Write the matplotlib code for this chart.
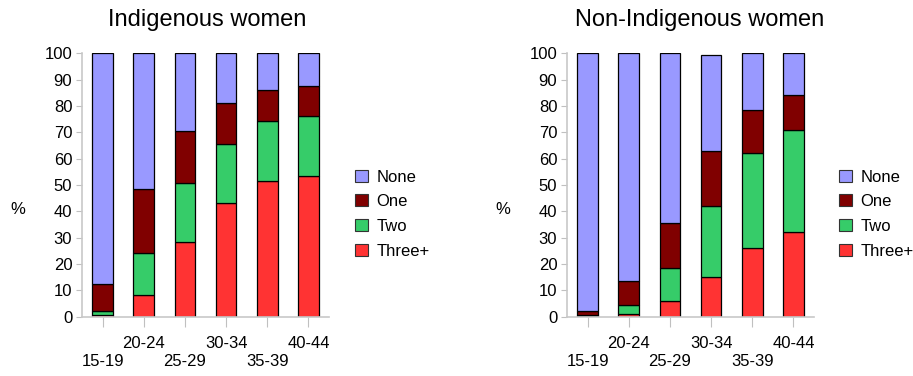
import matplotlib.pyplot as plt
import numpy as np
from matplotlib.patches import Patch

plt.rcParams['font.family'] = ['Liberation Sans', 'DejaVu Sans']

ages = ['15-19', '20-24', '25-29', '30-34', '35-39', '40-44']
groups = ['Three+', 'Two', 'One', 'None']
colors = {'None': '#9999FF', 'One': '#800000', 'Two': '#36CC69', 'Three+': '#FF3333'}

# Indigenous women (%)
ind_three = [0.5, 8.2, 28.5, 43.0, 51.4, 53.5]
ind_two = [1.7, 15.8, 22.1, 22.7, 22.9, 22.8]
ind_one = [10.1, 24.5, 19.9, 15.3, 11.6, 11.4]
ind_none = [87.7, 51.5, 29.5, 19.0, 14.1, 12.3]

# Non-Indigenous women (%)
non_three = [0.2, 1.0, 6.0, 14.9, 26.2, 32.1]
non_two = [0.3, 3.4, 12.3, 27.3, 35.9, 38.6]
non_one = [1.6, 9.1, 17.3, 20.6, 16.4, 13.3]
non_none = [97.9, 86.5, 64.4, 36.7, 21.5, 16.0]

W, H = 913, 376
fig = plt.figure(figsize=(W / 100, H / 100), dpi=100)


def stacked(ax, series):
    x = np.arange(len(ages))
    bottom = np.zeros(len(ages))
    for name, vals in zip(groups, series):
        ax.bar(x, vals, 0.5, bottom=bottom, color=colors[name],
               edgecolor='black', linewidth=0.9, zorder=2)
        bottom += np.array(vals)
    ax.set_xlim(-0.5, len(ages) - 0.5)
    ax.set_ylim(0, 100)
    ax.set_yticks(range(0, 101, 10))
    labels = [('\n' + a) if i % 2 == 0 else a for i, a in enumerate(ages)]
    ax.set_xticks(x)
    ax.set_xticklabels(labels, fontsize=12, linespacing=1.25)
    ax.tick_params(axis='y', labelsize=12, length=4, color='#c0c0c0', pad=3)
    ax.tick_params(axis='x', length=7, color='#c0c0c0', pad=7)
    for s in ['top', 'right']:
        ax.spines[s].set_visible(False)
    for s in ['left', 'bottom']:
        ax.spines[s].set_color('#c8c8c8')
        ax.spines[s].set_linewidth(1.2)
    ax.set_ylabel('%', rotation=0, fontsize=12)
    ax.yaxis.set_label_coords(-0.26, 0.38)


ax1 = fig.add_axes([82 / W, 1 - 316.7 / H, 247 / W, 263.4 / H])
stacked(ax1, [ind_three, ind_two, ind_one, ind_none])
ax2 = fig.add_axes([567 / W, 1 - 316.7 / H, 247 / W, 263.4 / H])
stacked(ax2, [non_three, non_two, non_one, non_none])

fig.text(207 / W, 1 - 20 / H, 'Indigenous women', fontsize=17, ha='center', va='center')
fig.text(700 / W, 1 - 20 / H, 'Non-Indigenous women', fontsize=17, ha='center', va='center')

handles = [Patch(facecolor=colors[g], edgecolor='#333333', linewidth=0.8, label=g)
           for g in groups[::-1]]
for lx in [347, 831]:
    fig.legend(handles=handles, loc='center left', bbox_to_anchor=(lx / W, 1 - 214 / H),
               frameon=False, fontsize=12, handlelength=0.75, handleheight=0.75,
               handletextpad=0.5, labelspacing=0.58, borderpad=0)

fig.savefig('out.png', dpi=100)
